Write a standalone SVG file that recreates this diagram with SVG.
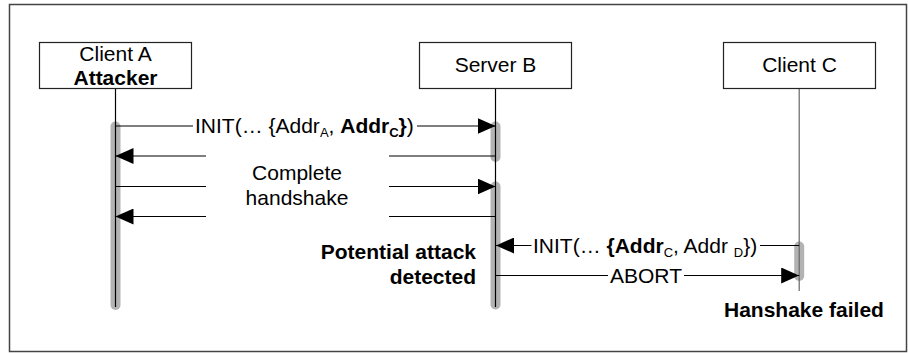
<svg xmlns="http://www.w3.org/2000/svg" width="908" height="353" viewBox="0 0 908 353">
<style>
text{font-family:"Liberation Sans",Arial,sans-serif;font-size:21px;fill:#000}
.c{text-anchor:middle}
.r{text-anchor:end}
.b{font-weight:bold}
.box{fill:#fff;stroke:#222;stroke-width:1.2}
.life{stroke:#000;stroke-width:1.2}
.bar{stroke:#b3b3b3;stroke-width:10;stroke-linecap:round;fill:none}
.msg{stroke:#000;stroke-width:1.2;fill:none}
.arr{stroke:#000;stroke-width:1.2;fill:none;marker-end:url(#ah)}
</style>
<defs>
<marker id="ah" markerUnits="userSpaceOnUse" markerWidth="18" markerHeight="16" refX="18" refY="8" orient="auto" viewBox="0 0 18 16">
<path d="M0,0 L18,8 L0,16 z" fill="#000"/>
</marker>
</defs>
<rect x="9.5" y="4.5" width="897" height="347" fill="#fff" stroke="#444" stroke-width="1.5"/>
<g id="clientA">
<line class="bar" x1="115.5" y1="126.5" x2="115.5" y2="305"/>
<line class="life" x1="115.5" y1="88.5" x2="115.5" y2="307"/>
<rect class="box" x="39.5" y="42.5" width="152" height="46"/>
<text class="c" x="115.5" y="60.5">Client A</text>
<text class="c b" x="115.5" y="85">Attacker</text>
</g>
<g id="serverB">
<line class="bar" x1="495.5" y1="126.5" x2="495.5" y2="157"/>
<line class="bar" x1="495.5" y1="186.5" x2="495.5" y2="304.5"/>
<line class="life" x1="495.5" y1="88.5" x2="495.5" y2="307"/>
<rect class="box" x="419.5" y="42.5" width="152" height="46"/>
<text class="c" x="495.5" y="72">Server B</text>
</g>
<g id="clientC">
<line class="bar" x1="799.2" y1="246.5" x2="799.2" y2="276"/>
<line x1="799.2" y1="88.5" x2="799.2" y2="291" stroke="#666" stroke-width="1.2"/>
<rect class="box" x="723.5" y="42.5" width="152" height="46"/>
<text class="c" x="799.5" y="72">Client C</text>
</g>
<g id="connectors">
<line class="msg" x1="115.5" y1="126" x2="193" y2="126"/>
<path class="arr" d="M417,126 H495.5"/>
<text x="195" y="133">INIT(… {Addr<tspan font-size="13" dy="3.5">A</tspan><tspan dy="-3.5">, </tspan><tspan class="b">Addr</tspan><tspan class="b" font-size="13" dy="3.5">C</tspan><tspan class="b" dy="-3.5">}</tspan>)</text>

<line class="msg" x1="495.5" y1="156" x2="389" y2="156"/>
<path class="arr" d="M206,156 H115.5"/>

<line class="msg" x1="115.5" y1="186.5" x2="206" y2="186.5"/>
<path class="arr" d="M389,186.5 H495.5"/>

<line class="msg" x1="495.5" y1="216.5" x2="389" y2="216.5"/>
<path class="arr" d="M206,216.5 H115.5"/>

<text class="c" x="297" y="179.5">Complete</text>
<text class="c" x="297" y="205">handshake</text>

<line class="msg" x1="799.2" y1="245.5" x2="760" y2="245.5"/>
<path class="arr" d="M531.5,245.5 H496"/>
<text x="533" y="253">INIT(… <tspan class="b">{Addr</tspan><tspan font-size="13" dy="3.5">C</tspan><tspan dy="-3.5">, Addr </tspan><tspan font-size="13" dy="3.5">D</tspan><tspan dy="-3.5">})</tspan></text>

<line class="msg" x1="495.5" y1="275.5" x2="608" y2="275.5"/>
<path class="arr" d="M684,275.5 H799.2"/>
<text x="610" y="283">ABORT</text>
</g>
<text class="r b" x="476" y="258.5">Potential attack</text>
<text class="r b" x="476" y="283.5">detected</text>
<text class="b" x="724" y="317">Hanshake failed</text>
</svg>
